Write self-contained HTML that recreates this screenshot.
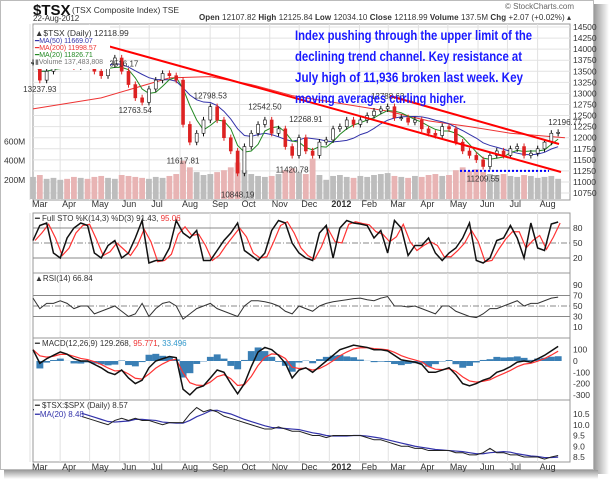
<!DOCTYPE html>
<html><head><meta charset="utf-8"><style>
html,body{margin:0;padding:0;background:#fff;}
svg{display:block;font-family:"Liberation Sans",sans-serif;}
</style></head><body>
<svg id="c" width="609" height="479" viewBox="0 0 609 479" xmlns="http://www.w3.org/2000/svg">
<defs>
<linearGradient id="shr" x1="0" x2="1"><stop offset="0" stop-color="#999"/><stop offset="1" stop-color="#fff"/></linearGradient>
<linearGradient id="shb" x1="0" y1="0" x2="0" y2="1"><stop offset="0" stop-color="#999"/><stop offset="1" stop-color="#fff"/></linearGradient>
</defs>
<rect x="594" y="4" width="15" height="470" fill="url(#shr)"/>
<rect x="4" y="470" width="594" height="9" fill="url(#shb)"/>
<rect x="0.5" y="0.5" width="593" height="469" fill="#fff" stroke="#bbb"/>
<g id="g"></g>
</svg>
<script>
// ---- data (weekly, Mar 2011 - Aug 2012) ----
const closes=[13700,13300,13500,13650, 13800,13750,13600,13850, 13700,13500,13400,13650,13800, 13500,13200,12900,12800, 13100,13300,13450,13400,13300, 12300,11900,12100,12400, 12700,12400,12000,11700, 11200,11800,12100,12300,12400, 12100,12200,11800,11600, 12000,11700,11600,11900,11950, 12200,12250,12400,12300, 12400,12500,12600,12650, 12700,12450,12450,12350,12400, 12200,12100,12050,12250, 12200,11900,11700,11600,11500, 11350,11600,11700,11600, 11750,11800,11600,11650, 11750,11900,12100,12120];
const volumes=[230,250,210,220, 200,210,230,220, 210,230,240,220,210, 250,240,230,220, 210,230,220,240,260, 400,330,280,250, 260,280,300,330, 380,300,260,240,230, 240,260,300,320, 280,260,420,250,200, 240,250,230,220, 240,230,250,260, 270,240,230,220,240, 230,250,260,240, 250,300,330,290,310, 280,260,250,260, 240,230,250,240, 220,230,240,210];
const ma200=[[0,12650],[10,12900],[20,13350],[26,13380],[32,13200],[38,12950],[46,12750],[52,12600],[58,12380],[64,12250],[70,12100],[78,12000]];
const stoK=[55,85,90,30, 20,60,80,90, 85,30,20,45,55, 20,30,60,95, 10,15,15,40,95, 70,60,75,15, 15,35,55,70, 90,35,25,15,30, 75,95,90,50, 30,20,15,70,85, 20,80,95,90, 88,85,60,75, 30,95,80,25,45, 45,60,30,15, 30,40,60,90,15, 10,20,55,60, 85,60,20,90, 40,35,88,92];
const rsi=[65,45,55,55, 60,55,45,50, 50,35,40,45,50, 40,30,35,55, 30,45,55,58,50, 25,35,45,50, 55,45,40,35, 30,50,60,60,58, 55,50,40,35, 50,45,40,50,55, 58,60,62,64, 65,62,60,65, 68,50,50,48,50, 45,40,35,50, 50,40,35,30,28, 35,45,45,50, 55,60,50,55, 55,60,65,67];
const macd=[100,-20,20,50, 80,60,20,0, 0,-30,-60,-100,-120, -80,-150,-200,-170, -60,0,20,40,30, -250,-300,-240,-220, -150,-80,-100,-200, -290,-200,-50,80,120, 100,50,-20,-150, -80,-60,-100,-50,0, 50,100,120,140, 130,120,100,100, 90,50,10,0,-10, -30,-100,-100,-80, -60,-120,-200,-220,-200, -170,-150,-100,-80, -50,-10,0,-10, 20,50,90,129];
const ratio=[10.7,10.7,10.7,10.7, 10.7,10.6,10.5,10.4, 10.3,10.2,10.1,10.0,10.2, 10.3,10.2,10.3,10.2, 10.2,10.1,10.0,10.1,10.1, 10.1,10.5,10.8,10.6, 10.7,10.6,10.4,10.3, 10.2,10.1,10.0,9.9,9.8, 9.8,9.9,9.8,9.7, 9.7,9.6,9.5,9.5,9.4, 9.5,9.5,9.5,9.5, 9.5,9.4,9.3,9.3, 9.2,9.1,9.0,9.0,8.9, 8.9,8.8,8.8,8.8, 8.8,8.7,8.7,8.6,8.6, 8.7,8.9,8.7,8.7, 8.6,8.6,8.5,8.5, 8.5,8.4,8.5,8.57];
const months=["Mar","Apr","May","Jun","Jul","Aug","Sep","Oct","Nov","Dec","2012","Feb","Mar","Apr","May","Jun","Jul","Aug"];
const monthWeeks=[0,4.4,8.7,13.1,17.4,21.9,26.3,30.6,35.0,39.3,43.7,48.1,52.3,56.7,61.0,65.4,69.7,74.1];
const priceTicks=[14500,14250,14000,13750,13500,13250,13000,12750,12500,12250,12000,11750,11500,11250,11000,10750];
const volTicks=[600,400,200];
const peakLabels=[[1,"13237.93",13237,1],[13,"13516.17",13516,-1],[15,"12763.54",12763,1],[22,"11617.81",11617,1],[26,"12798.53",12798,-1],[30,"10848.19",10848,1],[34,"12542.50",12542,-1],[38,"11420.78",11420,1],[40,"12268.91",12268,-1],[52,"12788.63",12788,-1],[66,"11209.55",11209,1],[78,"12196.77",12196,-1]];

// ---- axes ----
const L=33,R=570;
const xi=i=>33+i*6.82;
const gx=w=>30+w*6.85;
const yP=v=>27+(14500-v)/250*11.07;
const yV=v=>199-v*0.096;
const yS=v=>243-(v-50)*0.5;
const yR=v=>306-(v-50)*0.525;
const yM=v=>361-v*0.113;
const yT=v=>414+(10.5-v)*21.5;
const panels=[["main-panel",24,200],["sto-panel",213,273],["rsi-panel",273,338],["macd-panel",338,400],["ratio-panel",400,462]];

const G=document.getElementById('g');
const NS="http://www.w3.org/2000/svg";
function mk(tag,attrs,parent){const e=document.createElementNS(NS,tag);for(const k in attrs)e.setAttribute(k,attrs[k]);(parent||G).appendChild(e);return e;}
function txt(x,y,s,attrs,parent){const e=mk('text',Object.assign({x:x,y:y,'font-size':9,fill:'#333'},attrs||{}),parent);e.textContent=s;return e;}
function poly(arr,fx,fy,attrs){return mk('polyline',Object.assign({points:arr.map((v,i)=>fx(i,v)+","+fy(v)).join(" "),fill:'none'},attrs));}
function sma(a,n){return a.map((v,i)=>{const s=a.slice(Math.max(0,i-n+1),i+1);return s.reduce((p,q)=>p+q,0)/s.length;});}

// panels + grids
panels.forEach(p=>{
  const r=mk('rect',{x:L,y:p[1],width:R-L,height:p[2]-p[1],fill:'#fff',stroke:'#999','stroke-width':1});
  
  
  monthWeeks.forEach(w=>{const l=mk('line',{x1:gx(w),x2:gx(w),y1:p[1],y2:p[2],stroke:'#e2e2e2'});
    
    });
});
priceTicks.forEach(v=>{
  const l=mk('line',{x1:L,x2:R,y1:yP(v),y2:yP(v),stroke:'#e2e2e2'});
  
  
  const t=txt(573,yP(v)+3,String(v),{'font-size':8.5});
  
  
});
volTicks.forEach(v=>{
  const t=txt(4,yV(v)+3,v+"M",{'font-size':8.5});
  
  
});
// x labels
[[207],[470]].forEach(r=>{
  months.forEach((m,k)=>{const t=txt(Math.max(gx(monthWeeks[k])+2,31),r[0],m,{'font-size':9,'font-weight':m==="2012"?'bold':'normal'});
    
    });
});

// volume
volumes.forEach((v,i)=>{
  const dn=i>0&&closes[i]<closes[i-1];
  const b=mk('rect',{x:xi(i)-2.9,y:yV(v),width:5.8,height:199-yV(v),fill:dn?'#e8b4b4':'#bdbdbd'});
  
  
});
// MAs
const m200=mk('polyline',{points:ma200.map(p=>xi(p[0])+","+yP(p[1])).join(" "),fill:'none',stroke:'#e33','stroke-width':1});


const m50=poly(sma(closes,10),(i)=>xi(i),yP,{stroke:'#33a','stroke-width':1});


const m20=poly(sma(closes,4),(i)=>xi(i),yP,{stroke:'#282','stroke-width':1});


// candles
closes.forEach((c,i)=>{
  const o=i>0?closes[i-1]:c;const dn=c<o;const col=dn?'#d22':'#111';
  const hi=Math.max(o,c)+70,lo=Math.min(o,c)-70;
  const w=mk('line',{x1:xi(i),x2:xi(i),y1:yP(hi),y2:yP(lo),stroke:col,'stroke-width':1});
  
  
  const b=mk('rect',{x:xi(i)-1.5,y:yP(Math.max(o,c)),width:3,height:Math.max(1,Math.abs(yP(o)-yP(c))),fill:dn?'#d22':'#fff',stroke:col,'stroke-width':0.6});
  
  
});
// peak labels
peakLabels.forEach(p=>{
  const y=p[3]>0?yP(p[2])+9:yP(p[2])-4;
  const t=txt(xi(p[0]),Math.min(y,198),p[1],{'font-size':8,'text-anchor':'middle',fill:'#333'});
  
  
});
// trend lines
[[97,43,561,172,'lower-trendline'],[390,96,559,144,'upper-trendline']].forEach(t=>{
  const l=mk('line',{x1:t[0],y1:t[1],x2:t[2],y2:t[3],stroke:'#f00','stroke-width':2});
  
  
});
const sup=mk('line',{x1:460,x2:549,y1:yP(11250),y2:yP(11250),stroke:'#00f','stroke-width':2,'stroke-dasharray':'2,2'});



// legend main
const lg=mk('rect',{x:34,y:25,width:76,height:44,fill:'#fff'});


[["▲$TSX (Daily) 12118.99",'#333',33],["━MA(50) 11669.07",'#33a',40],["━MA(200) 11998.57",'#e33',47],["━MA(20) 11826.71",'#282',54],["▮Volume 137,483,808",'#777',61]].forEach(r=>{
  const t=txt(35,r[2]+3,r[0],{'font-size':r[2]==33?8.5:7,fill:r[1]});
  
  
});
// annotation
["Index pushing through the upper limit of the","declining trend channel. Key resistance at","July high of 11,936 broken last week.   Key","moving averages curling higher."].forEach((s,k)=>{
  const t=txt(295,40+k*21,s,{'font-size':13.5,fill:'#1a1aff','font-weight':'bold',textLength:[237,227,228,171][k],lengthAdjust:'spacingAndGlyphs'});
  
  
});

// header
let t;
t=txt(33,15,"$TSX",{'font-size':15,'font-weight':'bold',fill:'#111'});
t=txt(72,13,"(TSX Composite Index) TSE",{'font-size':8.5});
t=txt(33,21,"22-Aug-2012",{'font-size':8});
t=txt(505,9,"© StockCharts.com",{'font-size':8,fill:'#666'});
t=txt(199,20,"",{'font-size':8});
t.innerHTML='<tspan font-weight="bold">Open</tspan> 12107.82 <tspan font-weight="bold">High</tspan> 12125.84 <tspan font-weight="bold">Low</tspan> 12034.10 <tspan font-weight="bold">Close</tspan> 12118.99 <tspan font-weight="bold">Volume</tspan> 137.5M <tspan font-weight="bold">Chg</tspan> +2.07 (+0.02%) ▴';
t.setAttribute('textLength','372');

// STO
[[80,'#888',''],[50,'#888','6,2,1,2'],[20,'#888','']].forEach(h=>{const l=mk('line',{x1:L,x2:R,y1:yS(h[0]),y2:yS(h[0]),stroke:h[1],'stroke-width':1,'stroke-dasharray':h[2]});
  const tt=txt(573,yS(h[0])+3,String(h[0]),{'font-size':8.5});});
const stoD=stoK.map((v,i)=>i>0?(v+stoK[i-1])/2:v);
let l=poly(stoD,i=>xi(i)+2,yS,{stroke:'#f33','stroke-width':1.2});
l=poly(stoK,i=>xi(i),yS,{stroke:'#111','stroke-width':1.5});
t=txt(35,221,"",{'font-size':8});t.innerHTML='━ Full STO %K(14,3) %D(3) 91.43, <tspan fill="#e33">95.06</tspan>';

// RSI
[[70,''],[50,'6,2,1,2'],[30,'']].forEach(h=>{const l2=mk('line',{x1:L,x2:R,y1:yR(h[0]),y2:yR(h[0]),stroke:'#888','stroke-dasharray':h[1]});});
[90,70,50,30,10].forEach(v=>{const tt=txt(573,yR(v)+3,String(v),{'font-size':8.5});});
l=poly(rsi,i=>xi(i),yR,{stroke:'#333','stroke-width':1});
t=txt(35,281,"▲RSI(14) 66.84",{'font-size':8});

// MACD
const sig=[];macd.forEach((v,i)=>sig.push(i?sig[i-1]+0.45*(v-sig[i-1]):v));
macd.forEach((v,i)=>{const h=v-sig[i];const b=mk('rect',{x:xi(i)-3.4,y:Math.min(yM(h),yM(0)),width:6.9,height:Math.abs(yM(h)-yM(0)),fill:'#3a7fb5'});});
[100,0,-100,-200,-300].forEach(v=>{const tt=txt(573,yM(v)+3,String(v),{'font-size':8.5});});
l=poly(sig,i=>xi(i),yM,{stroke:'#f33','stroke-width':1.2});
l=poly(macd,i=>xi(i),yM,{stroke:'#111','stroke-width':1.5});
t=txt(35,346,"",{'font-size':8});t.innerHTML='━ MACD(12,26,9) 129.268, <tspan fill="#e33">95.771</tspan>, <tspan fill="#39c">33.496</tspan>';

// Ratio
[10.5,10.0,9.5,9.0,8.5].forEach(v=>{const tt=txt(573,yT(v)+3,v.toFixed(1),{'font-size':8.5});});
l=poly(sma(ratio,4),i=>xi(i),yT,{stroke:'#33a','stroke-width':1.2});
l=poly(ratio,i=>xi(i),yT,{stroke:'#222','stroke-width':1});
const rb=mk('rect',{x:34,y:401,width:48,height:18,fill:'#fff'});
t=txt(35,408,"━ $TSX:$SPX (Daily) 8.57",{'font-size':8});
t=txt(35,417,"━MA(20) 8.48",{'font-size':8,fill:'#33a'});
</script>
</body></html>
